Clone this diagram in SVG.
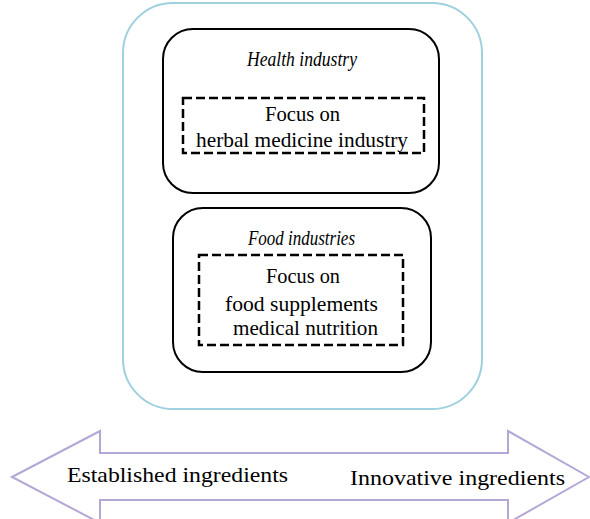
<svg xmlns="http://www.w3.org/2000/svg" width="590" height="519" viewBox="0 0 590 519">
<style>
.t{font-family:"Liberation Serif","DejaVu Serif",serif;font-size:21px;fill:#000;text-anchor:start}
.i{font-style:italic;font-size:20px}
.box{fill:none;stroke:#000;stroke-width:2}
.dash{fill:none;stroke:#000;stroke-width:2.5;stroke-dasharray:9,4}
</style>
<rect width="590" height="519" fill="#fff"/>
<g id="outer">
<rect x="123" y="3" width="359" height="406" rx="50" ry="50" fill="none" stroke="#9fd0dd" stroke-width="2"/>
</g>
<g id="health">
<rect class="box" x="163" y="29" width="276" height="164" rx="30" ry="30"/>
<text class="t i" x="247" y="66" textLength="110" lengthAdjust="spacingAndGlyphs">Health industry</text>
<rect class="dash" x="183" y="98" width="241" height="55"/>
<text class="t" x="265" y="121" textLength="75" lengthAdjust="spacingAndGlyphs">Focus on</text>
<text class="t" x="196" y="147" textLength="212" lengthAdjust="spacingAndGlyphs">herbal medicine industry</text>
</g>
<g id="food">
<rect class="box" x="173" y="208" width="258" height="164" rx="30" ry="30"/>
<text class="t i" x="248" y="245" textLength="107" lengthAdjust="spacingAndGlyphs">Food industries</text>
<rect class="dash" x="199" y="255" width="204" height="90"/>
<text class="t" x="266" y="283" textLength="74" lengthAdjust="spacingAndGlyphs">Focus on</text>
<text class="t" x="225" y="311" textLength="153" lengthAdjust="spacingAndGlyphs">food supplements</text>
<text class="t" x="233" y="335" textLength="145" lengthAdjust="spacingAndGlyphs">medical nutrition</text>
</g>
<g id="arrow">
<polygon points="12,477 100,431 100,453 508,453 508,431 589,477 508,523 508,500 100,500 100,523" fill="none" stroke="#b4a7d6" stroke-width="2"/>
<text class="t" x="67" y="482" textLength="221" lengthAdjust="spacingAndGlyphs">Established ingredients</text>
<text class="t" x="350" y="485" textLength="215" lengthAdjust="spacingAndGlyphs">Innovative ingredients</text>
</g>
<g id="connectors"></g>
</svg>
